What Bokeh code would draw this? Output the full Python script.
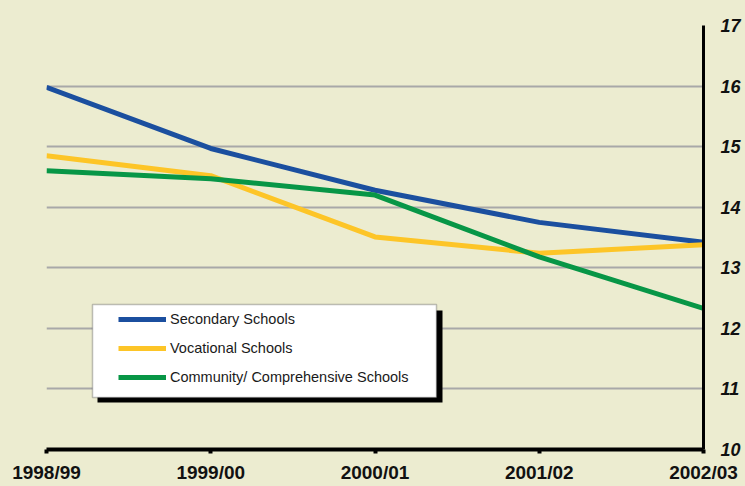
from bokeh.plotting import figure
from bokeh.models import (FixedTicker, Legend, LegendItem, BoxAnnotation)
from bokeh.embed import file_html
from bokeh.resources import INLINE

try:
    from bokeh.models import GlobalInlineStyleSheet
except Exception:
    GlobalInlineStyleSheet = None

# ---- data ----
years = ["1998/99", "1999/00", "2000/01", "2001/02", "2002/03"]
secondary = [15.98, 14.97, 14.28, 13.75, 13.42]
vocational = [14.85, 14.52, 13.51, 13.24, 13.38]
community = [14.60, 14.47, 14.20, 13.18, 12.33]
series_names = ["Secondary Schools", "Vocational Schools", "Community/ Comprehensive Schools"]
y_ticks = [10, 11, 12, 13, 14, 15, 16, 17]

BG = "#ECECD0"
COLORS = ["#1B4F9F", "#FDC527", "#079646"]

FRAME_L, FRAME_T, FRAME_W, FRAME_H = 46, 25, 657, 424
X0, X1, Y0, Y1 = 0, len(years) - 1, 10, 17

p = figure(frame_width=FRAME_W, frame_height=FRAME_H,
           x_range=(X0, X1), y_range=(Y0, Y1),
           y_axis_location="right",
           output_backend="svg", toolbar_location=None,
           background_fill_color=BG, border_fill_color=BG,
           min_border_left=FRAME_L, min_border_top=FRAME_T,
           min_border_right=0, min_border_bottom=0)
p.outline_line_color = None

if GlobalInlineStyleSheet is not None:
    p.stylesheets = [GlobalInlineStyleSheet(css="body{background:%s;}" % BG)]

xs = list(range(len(years)))

# grid
p.ygrid.ticker = FixedTicker(ticks=y_ticks)
p.ygrid.grid_line_color = "#A8A8A8"
p.ygrid.grid_line_width = 2
p.xgrid.ticker = FixedTicker(ticks=[xs[0]])
p.xgrid.grid_line_color = "#A8A8A8"
p.xgrid.grid_line_width = 2

# x axis
xa = p.xaxis[0]
xa.ticker = FixedTicker(ticks=xs)
xa.major_label_overrides = {i: y for i, y in enumerate(years)}
xa.axis_line_color = "black"
xa.axis_line_width = 4
xa.major_tick_line_color = "black"
xa.major_tick_line_width = 4
xa.major_tick_out = 4
xa.major_tick_in = 0
xa.minor_tick_line_color = None
xa.major_label_standoff = 8
xa.major_label_text_font = "Liberation Sans"
xa.major_label_text_font_style = "bold"
xa.major_label_text_font_size = "19px"
xa.major_label_text_color = "#111111"

# y axis (right)
ya = p.yaxis[0]
ya.ticker = FixedTicker(ticks=y_ticks)
ya.axis_line_color = "black"
ya.axis_line_width = 3
ya.major_tick_line_color = None
ya.major_tick_out = 0
ya.major_tick_in = 0
ya.minor_tick_line_color = None
ya.major_label_standoff = 17
ya.major_label_text_font = "Liberation Sans"
ya.major_label_text_font_style = "bold italic"
ya.major_label_text_font_size = "18px"
ya.major_label_text_color = "#111111"

# lines
renderers = []
for vals, col in zip([secondary, vocational, community], COLORS):
    r = p.line(xs, vals, line_color=col, line_width=5)
    renderers.append(r)

# legend box decoration (pixel -> data helper)
def px_x(fx):
    return X0 + (fx - FRAME_L) / FRAME_W * (X1 - X0)

def px_y(fy):
    return Y1 - (fy - FRAME_T) / FRAME_H * (Y1 - Y0)

shadow = BoxAnnotation(left=px_x(97), right=px_x(442), top=px_y(310), bottom=px_y(402),
                       fill_color="black", fill_alpha=1.0, line_color=None)
box = BoxAnnotation(left=px_x(92), right=px_x(436), top=px_y(304), bottom=px_y(397),
                    fill_color="white", fill_alpha=1.0, line_color="#333333", line_width=1.5)
p.add_layout(shadow)
p.add_layout(box)

legend = Legend(items=[LegendItem(label=n, renderers=[r]) for n, r in zip(series_names, renderers)],
                location=(72, 62), padding=0, margin=0, spacing=9,
                glyph_width=48, glyph_height=20, label_height=20, label_standoff=4,
                border_line_color=None, background_fill_alpha=0,
                label_text_font="Liberation Sans", label_text_font_size="14.5px",
                label_text_color="#1A1A1A")
p.add_layout(legend, "center")

open("out.html", "w").write(file_html(p, INLINE))
